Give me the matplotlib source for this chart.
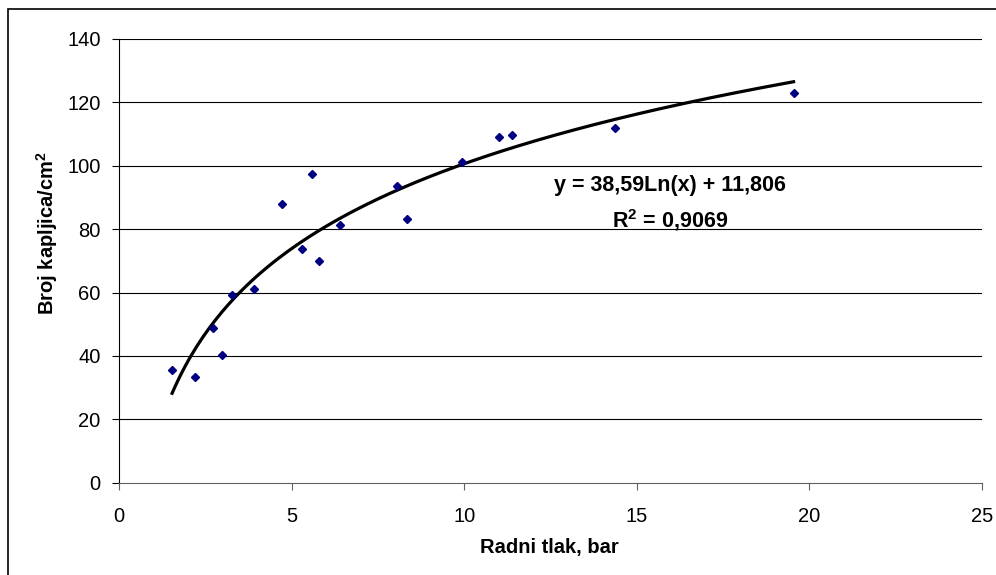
import matplotlib
matplotlib.use('Agg')
import matplotlib.pyplot as plt
import numpy as np
from matplotlib.patches import Rectangle

plt.rcParams['font.family'] = ['Liberation Sans', 'DejaVu Sans']
plt.rcParams['mathtext.fontset'] = 'custom'
plt.rcParams['mathtext.rm'] = 'Liberation Sans'
plt.rcParams['mathtext.bf'] = 'Liberation Sans:bold'

# data
tlak = [1.53, 2.19, 2.72, 2.97, 3.26, 3.90, 4.71, 5.29, 5.59, 5.78,
        6.41, 8.05, 8.33, 9.94, 11.0, 11.37, 14.36, 19.54]
kapljice = [35.6, 33.3, 48.7, 40.3, 59.1, 61.0, 87.9, 73.6, 97.4, 69.8,
            81.3, 93.6, 83.3, 101.3, 109.2, 109.6, 112.0, 122.9]
# trendline from Excel: y = a*ln(x) + b
a, b = 38.59, 11.806
x_ticks = [0, 5, 10, 15, 20, 25]
y_ticks = [0, 20, 40, 60, 80, 100, 120, 140]

W, H = 996, 575
fig = plt.figure(figsize=(W / 100, H / 100), dpi=100)
ax = fig.add_axes([119.3 / W, 1 - 482.7 / H, (982 - 119.3) / W, (482.7 - 39) / H])

for yv in y_ticks[1:]:
    ax.axhline(yv, color='black', lw=0.8, zorder=1)

xs = np.linspace(min(tlak), max(tlak), 200)
ax.plot(xs, a * np.log(xs) + b, color='black', lw=2.3, zorder=2)
ax.plot(tlak, kapljice, linestyle='none', marker='D', markersize=4.2,
        color='#000080', zorder=3)

ax.set_xlim(0, 25)
ax.set_ylim(0, 140)
ax.set_xticks(x_ticks)
ax.set_yticks(y_ticks)
ax.spines['top'].set_visible(False)
ax.spines['right'].set_visible(False)
ax.spines['left'].set_color('black')
ax.spines['bottom'].set_color('#606060')
ax.tick_params(axis='y', length=5, width=0.8, pad=8.5, labelsize=14.5, colors='black')
ax.tick_params(axis='x', length=5, width=0.8, pad=12.5, labelsize=14.5, color='#606060',
               labelcolor='black')

fig.text(549 / W, 1 - 553 / H, 'Radni tlak, bar', ha='center', va='baseline',
         fontsize=14.5, fontweight='bold')
fig.text(47 / W, 1 - 233 / H, r'Broj kapljica/cm$^{\mathbf{2}}$', ha='center', va='center',
         rotation=90, fontsize=14.5, fontweight='bold')

fig.text(670 / W, 1 - 186 / H, 'y = 38,59Ln(x) + 11,806', ha='center', va='center',
         fontsize=15.5, fontweight='bold')
fig.text(670 / W, 1 - 220 / H, r'R$^{\mathbf{2}}$ = 0,9069', ha='center', va='center',
         fontsize=15.5, fontweight='bold')

fig.patches.append(Rectangle((8 / W, -0.1), 1.2, 1.1 - 9 / H, transform=fig.transFigure,
                             fill=False, edgecolor='black', lw=1.2))

fig.savefig('out.png', dpi=100)
